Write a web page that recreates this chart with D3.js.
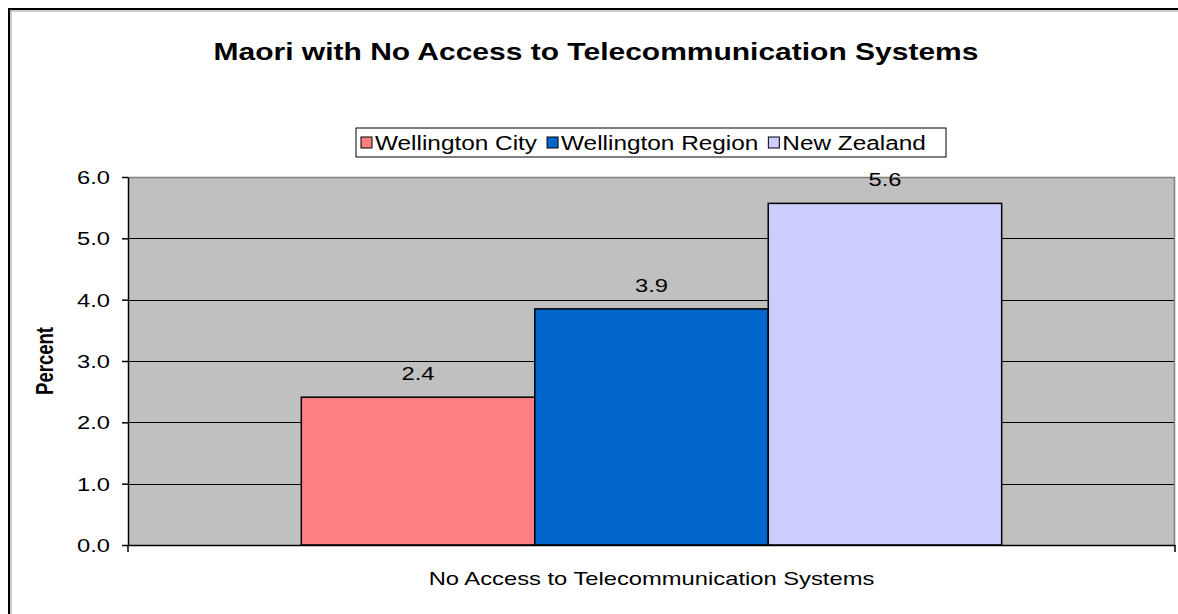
<!DOCTYPE html>
<html>
<head>
<meta charset="utf-8">
<script src="https://cdn.jsdelivr.net/npm/d3@7"></script>
<style>
  body { margin: 0; background: #fff; }
  text { font-family: "Liberation Sans", Arial, sans-serif; fill: #000; }
</style>
</head>
<body>
<div id="svg-area"></div>
<script>
var categories = ["No Access to Telecommunication Systems"];
var seriesNames = ["Wellington City", "Wellington Region", "New Zealand"];
var seriesValues = [2.41, 3.85, 5.57];
var seriesLabels = ["2.4", "3.9", "5.6"];
var seriesColors = ["#ff8080", "#0066cc", "#ccccff"];
var yTicks = [0, 1, 2, 3, 4, 5, 6];

var svgWidth = 1178;
var svgHeight = 614;
// the picture is a bit wider than tall, text is stretched sideways
var SX = 1.25;

var margin = { top: 177, right: 3, bottom: 69, left: 128 };
var chartwidth = svgWidth - margin.left - margin.right;
var chartheight = svgHeight - margin.top - margin.bottom;

// move x/y into a transform so the glyphs can be widened
function widen(sel) {
  sel.each(function() {
    var t = d3.select(this);
    var x = +t.attr("x") || 0, y = +t.attr("y") || 0;
    t.attr("x", 0).attr("y", 0)
      .attr("transform", `translate(${x},${y}) scale(${SX},1)`);
  });
}

var svg = d3.select("#svg-area")
  .append("svg")
  .attr("width", svgWidth)
  .attr("height", svgHeight);

// outer chart frame (runs off the right and bottom)
svg.append("rect")
  .attr("x", 9).attr("y", 9)
  .attr("width", 1200).attr("height", 700)
  .attr("fill", "none")
  .attr("stroke", "#000")
  .attr("stroke-width", 2);
svg.append("line")
  .attr("x1", 10).attr("x2", 1178).attr("y1", 11).attr("y2", 11)
  .attr("stroke", "#999");
svg.append("line")
  .attr("x1", 11).attr("x2", 11).attr("y1", 11).attr("y2", 614)
  .attr("stroke", "#999");

// title
svg.append("text")
  .attr("x", 596).attr("y", 60)
  .attr("text-anchor", "middle")
  .style("font-size", "24px")
  .style("font-weight", "bold")
  .text("Maori with No Access to Telecommunication Systems")
  .call(widen);

var chartGroup = svg.append("g")
  .attr("transform", `translate(${margin.left}, ${margin.top})`);

var x0 = d3.scaleBand()
  .domain(categories)
  .range([0, chartwidth])
  .paddingInner(0)
  .paddingOuter(0.2475);

var x1 = d3.scaleBand()
  .domain(seriesNames)
  .range([0, x0.bandwidth()]);

var yLinearScale = d3.scaleLinear()
  .domain([0, 6])
  .range([chartheight, 0]);

// plot background
chartGroup.append("rect")
  .attr("width", chartwidth)
  .attr("height", chartheight)
  .attr("fill", "#c0c0c0");

// gridlines
chartGroup.selectAll(".grid")
  .data(yTicks.slice(1, -1))
  .enter()
  .append("line")
  .attr("x1", 0).attr("x2", chartwidth)
  .attr("y1", d => Math.round(yLinearScale(d)) + 0.5)
  .attr("y2", d => Math.round(yLinearScale(d)) + 0.5)
  .attr("stroke", "#000");

// plot border top/right
chartGroup.append("path")
  .attr("d", `M0,0.5H${chartwidth - 0.5}V${chartheight}`)
  .attr("fill", "none")
  .attr("stroke", "#808080")
  .attr("stroke-width", 1.5);

// bars
var barData = seriesNames.map((s, i) => ({ cat: categories[0], name: s, value: seriesValues[i], label: seriesLabels[i], color: seriesColors[i] }));

chartGroup.selectAll(".bar")
  .data(barData)
  .enter()
  .append("rect")
  .attr("x", d => x0(d.cat) + x1(d.name))
  .attr("y", d => yLinearScale(d.value))
  .attr("width", x1.bandwidth())
  .attr("height", d => chartheight - yLinearScale(d.value))
  .attr("fill", d => d.color)
  .attr("stroke", "#000")
  .attr("stroke-width", 1.5);

chartGroup.selectAll(".lbl")
  .data(barData)
  .enter()
  .append("text")
  .attr("x", d => x0(d.cat) + x1(d.name) + x1.bandwidth() / 2)
  .attr("y", d => yLinearScale(d.value) - 17)
  .attr("text-anchor", "middle")
  .style("font-size", "19px")
  .text(d => d.label)
  .call(widen);

// axes
var leftAxis = d3.axisLeft(yLinearScale)
  .tickValues(yTicks)
  .tickFormat(d3.format(".1f"))
  .tickSizeInner(6)
  .tickSizeOuter(0)
  .tickPadding(12);

var yAxisG = chartGroup.append("g").call(leftAxis);
yAxisG.selectAll("text").style("font-size", "19px").attr("fill", "#000").attr("dy", "0.35em").call(widen);
yAxisG.selectAll("line, path").attr("stroke", "#000").attr("stroke-width", 1.5);

var bottomAxis = d3.axisBottom(x0).tickSize(0).tickPadding(26);
var xAxisG = chartGroup.append("g")
  .attr("transform", `translate(0, ${chartheight})`)
  .call(bottomAxis);
xAxisG.selectAll("text").style("font-size", "19px").attr("fill", "#000").call(widen);
xAxisG.select("path").attr("stroke", "#000").attr("stroke-width", 1.5);

// category boundary ticks
chartGroup.selectAll(".xtick")
  .data([0, chartwidth])
  .enter()
  .append("line")
  .attr("x1", d => d).attr("x2", d => d)
  .attr("y1", chartheight).attr("y2", chartheight + 7)
  .attr("stroke", "#000")
  .attr("stroke-width", 1.5);

// y label
chartGroup.append("text")
  .attr("transform", `translate(-75, ${chartheight / 2}) rotate(-90) scale(1, ${SX})`)
  .attr("text-anchor", "middle")
  .style("font-size", "18.5px")
  .style("font-weight", "bold")
  .text("Percent");

// legend
var legend = svg.append("g").attr("transform", "translate(356, 128)");
legend.append("rect")
  .attr("width", 590).attr("height", 29)
  .attr("fill", "#fff")
  .attr("stroke", "#000");

var items = legend.selectAll(".item")
  .data(seriesNames)
  .enter()
  .append("g");
items.append("rect")
  .attr("x", 0).attr("y", 9)
  .attr("width", 11).attr("height", 11)
  .attr("fill", (d, i) => seriesColors[i])
  .attr("stroke", "#000");
items.append("text")
  .attr("x", 14).attr("y", 22)
  .style("font-size", "19.5px")
  .text(d => d)
  .call(widen);

// lay the entries out one after another
var lx = 5;
items.each(function() {
  var g = d3.select(this);
  g.attr("transform", `translate(${lx}, 0)`);
  lx += 14 + g.select("text").node().getComputedTextLength() * SX + 10;
});
</script>
</body>
</html>
